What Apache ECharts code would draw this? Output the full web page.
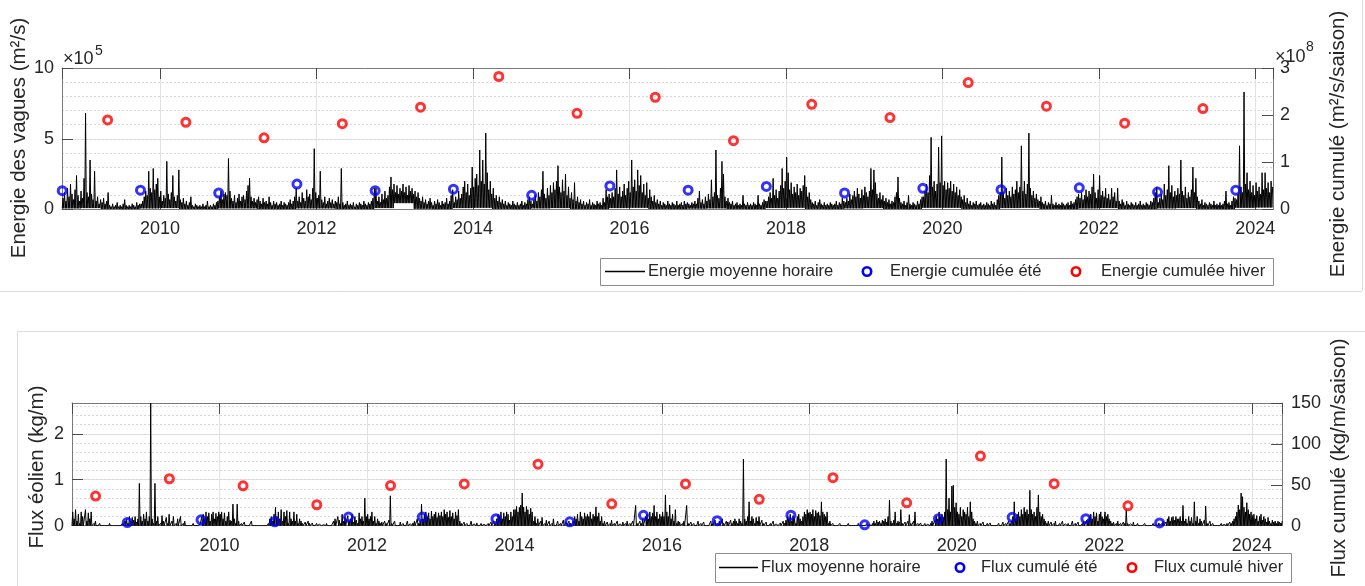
<!DOCTYPE html>
<html>
<head>
<meta charset="utf-8">
<script src="https://cdn.jsdelivr.net/npm/echarts@6/dist/echarts.min.js"></script>
<style>
  html, body { margin: 0; padding: 0; background: #ffffff; }
  #chart { width: 1365px; height: 586px; }
</style>
</head>
<body>
<div id="chart"></div>
<script>
// ---------------------------------------------------------------
// Wave energy: weekly peaks of the hourly mean (x10^5 m²/s),
// one row per season year starting at the end of September.
// ---------------------------------------------------------------
const waveStart = 2008.75;          // decimal year of the first sample
const samplesPerYear = 52;
const waveEnergyE5 = [
  0.8,1.2,0.6,1.5,0.9,1.8,1.1,0.7,1.4,2.4,1.0,0.6,1.3,0.8,2.2,6.8,1.2,0.9,3.5,1.1,0.7,2.7,0.6,0.9,0.4,0.7,0.5,0.8,0.4,0.6,1.2,0.3,0.2,0.4,0.2,0.3,0.5,0.2,0.3,0.2,0.4,0.7,0.3,0.2,0.3,0.2,0.4,0.3,0.2,0.5,0.3,0.4,
  0.4,0.6,0.9,1.3,1.0,2.7,1.5,1.2,2.9,1.4,1.8,2.2,0.9,1.3,0.6,1.0,0.8,3.4,1.1,0.7,1.2,2.4,0.9,0.6,1.0,2.8,0.7,0.5,0.8,0.4,0.6,0.3,0.5,0.9,0.3,0.2,0.4,0.3,0.2,0.3,0.2,0.4,0.2,0.3,0.6,0.2,0.3,0.2,0.4,0.3,0.5,0.6,
  0.9,1.3,0.7,1.1,1.2,1.0,3.6,1.3,0.8,0.6,1.0,0.5,0.8,1.1,0.6,0.9,1.0,0.7,1.3,1.7,2.2,0.9,0.6,0.8,0.5,0.7,0.9,0.6,0.4,0.8,0.5,0.6,0.4,0.9,0.5,0.3,0.6,0.4,0.5,0.3,0.4,0.6,0.3,0.5,0.4,0.3,0.5,0.7,0.4,0.6,0.9,1.5,
  0.6,0.9,0.5,1.2,0.8,0.6,1.4,0.9,1.1,0.7,1.5,4.3,1.2,0.8,1.0,2.7,0.7,0.5,0.9,0.4,0.6,0.8,0.5,0.7,0.4,0.6,0.5,0.9,0.4,2.9,0.5,0.3,0.4,0.6,0.3,0.4,0.3,0.5,0.2,0.4,0.3,0.5,0.4,0.3,0.6,0.4,0.3,0.5,0.4,0.6,0.8,1.5,
  1.5,0.6,0.9,0.5,1.1,0.7,1.3,0.8,1.0,1.6,2.3,1.4,1.8,1.2,1.7,1.1,1.5,1.3,1.8,1.2,1.6,1.0,1.7,1.3,1.5,1.1,1.3,0.9,1.2,0.8,0.6,0.9,0.5,0.7,0.4,0.6,0.8,0.5,0.3,0.6,0.4,0.7,0.5,0.3,0.6,0.4,0.5,0.8,0.4,0.6,1.0,1.4,
  0.5,0.9,0.7,1.3,0.8,1.1,1.6,2.0,1.2,1.8,1.0,1.5,3.0,1.6,2.2,2.5,1.7,4.2,2.0,3.5,1.8,5.4,2.6,1.4,2.0,1.1,1.5,0.8,1.0,0.6,0.9,0.5,0.7,0.4,0.6,0.3,0.5,0.4,0.3,0.6,0.4,0.3,0.5,0.3,0.4,0.6,0.3,0.5,0.4,0.7,0.9,0.6,
  0.4,0.7,1.0,0.6,1.2,0.9,1.4,2.7,1.1,0.8,1.5,1.0,1.7,1.2,1.9,1.4,2.0,3.1,1.6,1.2,2.1,1.3,2.5,1.0,1.6,0.8,1.2,0.7,1.9,0.6,0.9,0.5,0.7,0.4,0.6,0.3,0.5,0.4,0.7,0.3,0.5,0.4,0.3,0.6,0.4,0.5,0.3,0.8,0.5,1.4,0.9,1.1,
  0.8,1.2,0.9,1.5,2.8,1.1,1.6,0.9,1.3,1.8,1.0,1.5,2.0,1.2,3.5,1.6,2.1,1.3,2.8,1.7,2.4,1.2,1.8,1.0,1.9,0.8,1.4,0.9,0.6,1.0,0.5,0.7,0.4,0.6,0.3,0.5,0.4,0.3,0.6,0.4,0.3,0.5,0.4,0.3,0.6,0.3,0.4,0.5,0.3,0.6,0.4,0.5,
  0.4,0.3,0.5,0.4,0.6,0.4,0.8,1.3,0.5,0.7,0.4,0.9,0.6,1.1,0.7,2.1,0.9,1.2,4.2,1.0,0.8,1.5,3.4,2.5,0.9,0.6,0.8,0.5,0.4,0.6,0.3,0.4,0.5,0.3,0.4,0.3,1.0,0.4,0.3,0.5,0.3,0.4,0.3,0.5,0.4,0.3,1.0,0.4,0.3,0.5,0.7,0.6,
  0.6,0.9,1.2,0.8,2.2,1.0,1.4,0.8,1.3,1.7,2.9,1.5,2.0,3.7,2.6,1.4,1.9,1.1,1.6,1.2,1.8,1.0,1.5,1.3,1.7,2.4,1.6,0.9,1.2,0.7,0.5,0.4,0.6,0.3,0.5,0.7,0.4,0.3,0.5,0.3,0.4,0.3,0.5,0.4,0.3,0.4,0.6,0.3,0.5,0.4,0.8,0.6,
  0.5,0.8,0.6,1.1,0.7,1.0,1.3,0.9,1.5,1.1,0.8,1.4,1.0,1.6,1.2,0.9,1.3,2.9,1.4,2.8,1.9,1.1,0.8,1.2,0.7,1.0,0.6,0.8,0.5,0.7,0.4,0.6,0.5,0.9,1.2,2.3,0.8,0.5,0.4,0.6,0.3,0.5,1.0,0.4,0.3,0.5,0.4,0.3,0.6,0.4,0.7,0.9,
  0.9,1.3,1.8,1.2,2.4,5.1,1.6,2.0,1.3,1.8,4.4,1.9,5.2,1.7,2.0,1.4,1.9,1.5,2.0,1.3,1.8,1.2,1.6,1.0,1.4,0.9,0.7,1.0,0.5,0.8,0.4,0.6,0.3,0.5,0.4,0.6,0.3,0.4,0.5,0.3,0.4,0.3,0.5,0.4,0.3,0.6,0.4,0.5,0.3,0.7,1.0,1.2,
  3.7,1.2,0.8,1.5,1.0,1.3,0.9,1.6,1.1,1.4,2.0,1.2,1.6,4.5,1.3,2.0,1.1,1.8,5.4,1.5,1.0,1.3,0.8,1.1,0.7,0.6,0.9,0.5,0.4,0.6,0.3,0.5,0.4,1.0,0.4,0.3,0.5,0.3,0.4,0.3,0.5,0.4,0.3,0.4,0.5,0.3,0.6,0.4,0.5,0.7,0.9,1.1,
  0.8,1.2,0.7,1.0,1.4,0.9,1.3,1.1,1.6,2.5,1.2,0.8,1.4,2.4,1.0,1.3,0.9,1.5,0.8,1.1,0.7,1.5,0.9,1.2,0.6,1.5,0.6,0.4,0.7,0.5,0.3,0.6,0.4,0.3,0.5,0.4,0.3,0.5,0.3,0.4,0.6,0.3,0.4,0.3,0.5,0.4,0.3,0.6,0.5,0.8,1.2,1.6,
  0.5,0.8,1.1,0.7,1.8,1.0,1.4,3.1,1.2,1.7,0.9,1.3,1.0,1.5,1.1,3.5,1.3,1.0,1.6,0.8,1.2,0.9,1.4,3.0,1.2,2.2,0.9,0.6,0.4,0.7,0.3,0.5,0.4,0.3,0.5,0.4,0.3,0.6,0.3,0.4,0.3,0.5,0.3,0.4,0.6,1.3,0.4,0.5,0.3,0.6,0.9,0.8,
  0.7,1.1,4.5,1.6,1.2,8.3,1.8,2.6,1.4,2.0,1.2,1.7,1.0,1.9,1.3,1.6,1.1,2.6,1.4,2.6,1.5,1.9,1.2,2.0,1.6
];
// Calm level between storm peaks, one value per quarter (Oct-Dec, Jan-Mar, Apr-Jun, Jul-Sep)
const waveCalmE5 = [
  0.08,0.1,0.04,0.03,  0.08,0.1,0.04,0.03,  0.08,0.08,0.04,0.03,  0.08,0.08,0.04,0.03,
  0.1,0.45,0.05,0.03,  0.1,0.12,0.04,0.03,  0.08,0.1,0.04,0.03,   0.1,0.12,0.04,0.03,
  0.06,0.08,0.04,0.03, 0.1,0.12,0.04,0.03,  0.08,0.1,0.04,0.03,   0.12,0.12,0.04,0.03,
  0.1,0.12,0.04,0.03,  0.08,0.1,0.04,0.03,  0.08,0.1,0.04,0.03,   0.12,0.14
];

// Seasonal cumulated wave energy (x10^8 m²/s/saison)
const waveSummerDates = [2008.75,2009.75,2010.75,2011.75,2012.75,2013.75,2014.75,2015.75,2016.75,2017.75,2018.75,2019.75,2020.75,2021.75,2022.75,2023.75];
const waveSummerE8    = [0.40,0.41,0.35,0.54,0.40,0.43,0.30,0.50,0.41,0.49,0.35,0.45,0.42,0.46,0.37,0.41];
const waveWinterDates = [2009.33,2010.33,2011.33,2012.33,2013.33,2014.33,2015.33,2016.33,2017.33,2018.33,2019.33,2020.33,2021.33,2022.33,2023.33];
const waveWinterE8    = [1.90,1.85,1.52,1.82,2.17,2.82,2.04,2.38,1.46,2.23,1.95,2.69,2.19,1.83,2.14];

// ---------------------------------------------------------------
// Aeolian flux: weekly peaks of the hourly mean (kg/m),
// one row per calendar year; the flux drops back to zero between events.
// ---------------------------------------------------------------
const windStart = 2008.0;
const windCalm = 0;
const windFlux = [
  0.3,0.15,0.35,0.1,0.25,0.05,0.3,0.2,0,0.35,0.1,0.28,0.15,0.3,0,0.05,0.1,0,0,0.05,0,0,0.03,0,0,0,0.05,0,0,0.02,0,0,0.04,0,0,0.05,0,0.1,0.15,0.05,0.2,0.1,0.18,0.12,0.2,0.08,0.15,0.92,0.2,0.1,0.25,0.15,
  0.3,0.1,0.2,2.67,0.15,0.05,0.92,0.1,0.2,0,0.05,0.22,0.1,0,0.18,0.05,0.25,0,0.1,0.2,0,0.05,0.15,0,0.2,0,0.05,0.1,0,0,0.03,0,0,0.05,0,0,0.02,0,0.04,0.2,0.25,0.15,0.3,0.2,0.28,0.1,0.25,0.3,0.15,0.27,0.2,0.3,
  0.25,0.3,0.15,0.28,0.1,0.2,0.3,0.12,0.1,0.47,0.15,0.05,0.47,0.1,0,0.05,0,0.08,0,0,0,0.02,0.1,0,0,0.03,0,0,0,0.02,0,0,0.04,0,0.05,0.15,0.2,0.1,0.25,0.4,0.2,0.3,0.15,0.35,0.1,0.3,0.2,0.33,0.05,0.3,0.15,0.1,
  0.3,0.1,0.25,0.05,0.15,0.1,0.05,0,0.08,0,0.1,0.05,0,0.06,0,0,0.05,0,0.03,0,0,0.02,0,0.05,0,0,0.04,0,0.1,0.15,0,0.2,0.12,0.05,0.25,0.1,0.18,0,0.22,0.1,0.15,0.25,0.08,0.2,0.12,0.05,0.28,0.15,0.2,0.1,0.6,0.2,
  0.25,0.15,0.2,0.3,0.1,0.2,0.05,0.15,0.1,0.05,0.08,0,0.1,0.05,0,0.12,0.65,0.05,0,0.1,0.03,0,0,0.08,0,0.05,0,0,0.1,0,0.04,0,0.06,0.1,0,0.15,0.05,0.1,0.47,0.15,0.25,0.3,0.2,0.28,0.15,0.32,0.2,0.25,0.3,0.18,0.28,0.22,
  0.3,0.2,0.35,0.25,0.3,0.18,0.33,0.2,0.28,0.15,0.3,0.22,0.35,0.1,0.05,0,0.08,0,0.05,0,0,0.1,0,0.04,0,0.06,0,0,0.05,0,0.03,0,0,0.05,0,0.08,0,0.1,0.05,0.15,0.25,0.2,0.3,0.15,0.28,0.2,0.3,0.25,0.12,0.3,0.2,0.35,
  0.35,0.42,0.3,0.4,0.45,0.71,0.4,0.3,0.42,0.35,0.25,0.38,0.3,0.1,0.2,0.05,0.15,0,0.1,0.18,0,0.05,0.12,0,0.1,0,0.05,0.15,0,0,0.1,0,0.05,0,0.12,0,0.08,0,0.1,0.05,0,0.1,0.2,0.15,0.25,0.1,0.3,0.2,0.15,0.28,0.2,0.25,
  0.2,0.3,0.15,0.25,0.2,0.41,0.2,0.28,0.1,0.2,0.05,0.1,0,0.08,0,0.05,0.12,0,0.05,0,0.1,0,0.04,0,0.08,0,0.05,0.1,0,0.05,0,0.1,0,0.44,0.05,0,0.1,0.05,0.15,0,0.2,0.25,0.15,0.3,0.2,0.28,0.44,0.2,0.3,0.15,0.25,0.2,
  0.3,0.2,0.67,0.3,0.2,0.45,0.15,0.25,0.1,0.35,0.05,0.1,0.08,0,0.05,0.1,0,0.44,0.05,0,0.08,0,0.05,0,0,0.1,0,0.05,0,0.08,0,0,0.04,0,0.1,0.05,0,0.12,0,0.05,0.1,0,0.15,0.05,0,0.1,0.08,0,0.12,0.05,0.1,0.15,
  0.1,0.05,0.15,0.1,0.05,1.45,0.15,0.1,0.2,0.52,0.1,0.2,0.15,0.05,0.18,0.1,0.2,0,0.12,0.05,0,0.08,0,0,0.05,0,0.1,0,0.04,0,0,0.06,0,0.1,0.05,0.12,0.2,0.15,0.25,0.1,0.22,0.18,0.05,0.2,0.25,0.15,0.1,0.2,0.3,0.25,0.35,0.28,
  0.3,0.25,0.35,0.2,0.33,0.28,0.3,0.22,0.52,0.3,0.25,0.2,0.3,0.05,0.1,0,0.05,0,0,0.04,0,0.05,0,0,0.03,0,0,0.05,0,0,0,0.04,0,0,0.05,0,0,0.03,0,0,0.05,0,0.02,0,0.05,0.1,0.05,0.12,0.08,0.1,0.05,0.12,
  0.1,0.15,0.08,0.2,0.56,0.1,0.05,0.12,0.3,0.05,0.1,0.08,0.35,0.05,0,0.08,0,0.1,0.24,0.05,0,0.1,0.3,0,0.05,0,0.06,0,0,0.05,0,0.03,0,0.05,0.1,0,0.12,0.2,0.15,0.3,0.2,0.25,0.18,0.3,1.45,0.35,0.6,0.3,0.86,0.88,0.4,0.5,
  0.3,0.25,0.4,0.2,0.35,0.3,0.25,0.4,0.2,0.52,0.3,0.15,0.1,0.05,0.1,0,0.05,0,0.08,0,0,0.05,0,0.06,0,0,0.04,0,0,0.05,0,0,0.08,0,0.05,0,0.1,0.05,0.1,0.2,0.52,0.15,0.25,0.3,0.2,0.35,0.25,0.4,0.3,0.35,0.25,0.77,
  0.35,0.25,0.3,0.2,0.4,0.67,0.3,0.2,0.25,0.15,0.1,0.05,0.1,0,0.08,0,0.05,0.1,0,0,0.05,0,0.1,0,0.04,0,0.05,0,0,0.1,0,0.05,0,0.08,0,0,0.05,0.1,0,0.12,0.15,0.2,0.25,0.15,0.3,0.2,0.28,0.1,0.25,0.3,0.2,0.15,
  0.3,0.2,0.25,0.15,0.1,0.05,0.08,0,0.05,0.1,0,0.05,0,0.08,0.05,0.35,0.05,0,0.04,0,0.08,0,0,0.05,0,0,0.03,0,0.05,0,0,0.04,0,0,0.05,0,0.02,0,0.06,0,0.05,0.1,0,0.08,0.15,0.2,0.1,0.18,0.2,0.12,0.2,0.15,
  0.15,0.2,0.1,0.44,0.1,0.15,0.05,0.2,0.1,0.18,0.05,0.52,0.1,0.2,0.05,0.15,0.1,0,0.12,0.43,0.05,0,0.1,0,0.05,0,0,0.04,0,0,0.05,0,0.03,0,0.05,0,0.08,0.05,0.1,0.15,0.2,0.3,0.45,0.35,0.71,0.63,0.4,0.3,0.5,0.35,0.25,0.3,
  0.2,0.25,0.15,0.22,0.1,0.2,0.25,0.12,0.2,0.15,0.08,0.18,0.1,0.05,0.12,0.08,0.1,0.05,0.1,0.08,0.06,0.1
];

// Seasonal cumulated aeolian flux (kg/m/saison)
const windSummerDates = [2008.75,2009.75,2010.75,2011.75,2012.75,2013.75,2014.75,2015.75,2016.75,2017.75,2018.75,2019.75,2020.75,2021.75,2022.75];
const windSummer      = [3.9,7.2,4.7,10.5,10.6,8.5,4.7,12.7,6.1,12.9,1.1,8.6,10.3,8.5,3.4];
const windWinterDates = [2008.32,2009.32,2010.32,2011.32,2012.32,2013.32,2014.32,2015.32,2016.32,2017.32,2018.32,2019.32,2020.32,2021.32,2022.32];
const windWinter      = [36.2,57.4,48.7,25.6,49.0,51.1,75.2,26.7,51.1,32.3,58.7,28.0,85.1,51.4,24.3];

// Legend texts
const topNames = ['Energie moyenne horaire', 'Energie cumulée été', 'Energie cumulée hiver'];
const botNames = ['Flux moyenne horaire', 'Flux cumulé été', 'Flux cumulé hiver'];

// ---------------------------------------------------------------
const FONT = '"Liberation Sans", Arial, Helvetica, sans-serif';
const INK = '#262626';
const AXIS = '#7a7a7a';
const TICK = '#4a4a4a';
const GRID = '#e2e2e2';
const MINOR = '#d9d9d9';
const BLUE = '#0000ff';
const RED = '#ff0000';

// weekly samples: a calm point at the start of the week, then the week's peak
function weeklyTrace(start, peaks, calmAt) {
  const pts = [];
  peaks.forEach((v, i) => {
    const t = start + i / samplesPerYear;
    pts.push([t, calmAt(i)], [t + 0.5 / samplesPerYear, v]);
  });
  return pts;
}
const toPoints = (dates, values) => dates.map((d, i) => [d, values[i]]);

function timeAxes(gridIndex, min, max) {
  return [
    {
      type: 'value', gridIndex, min, max, splitNumber: 8, position: 'bottom',
      axisLine: { show: true, onZero: false, lineStyle: { color: AXIS, width: 1 } },
      axisTick: { show: true, inside: true, length: 11, lineStyle: { color: TICK } },
      axisLabel: { show: true, margin: 11, color: INK, fontFamily: FONT, fontSize: 18,
                   showMinLabel: false, showMaxLabel: false,
                   formatter: v => String(Math.round(v)) },
      splitLine: { show: true, lineStyle: { color: GRID, width: 1 } }
    },
    {
      type: 'value', gridIndex, min, max, splitNumber: 8, position: 'top',
      axisLine: { show: true, onZero: false, lineStyle: { color: AXIS, width: 1 } },
      axisTick: { show: true, inside: true, length: 11, lineStyle: { color: TICK } },
      axisLabel: { show: false },
      splitLine: { show: false }
    }
  ];
}

function valueAxes(gridIndex, left, right, minorStep) {
  return [
    {
      type: 'value', gridIndex, position: 'left', min: 0, max: left.max, interval: left.step,
      axisLine: { show: true, onZero: false, lineStyle: { color: AXIS, width: 1 } },
      axisTick: { show: true, inside: true, length: 11, lineStyle: { color: TICK } },
      axisLabel: { margin: 8, color: INK, fontFamily: FONT, fontSize: 18, showMaxLabel: left.showMax },
      splitLine: { show: true, lineStyle: { color: GRID, width: 1 } }
    },
    {
      type: 'value', gridIndex, position: 'right', min: 0, max: right.max, interval: right.step,
      axisLine: { show: true, onZero: false, lineStyle: { color: AXIS, width: 1 } },
      axisTick: { show: true, inside: true, length: 11, lineStyle: { color: TICK } },
      axisLabel: { margin: right.margin, color: INK, fontFamily: FONT, fontSize: 18 },
      splitLine: { show: false }
    },
    {
      // minor grid of the left scale
      type: 'value', gridIndex, position: 'left', min: 0, max: left.max, interval: minorStep,
      axisLine: { show: false }, axisTick: { show: false }, axisLabel: { show: false },
      splitLine: { show: true, lineStyle: { color: MINOR, width: 1, type: [2, 2] } }
    }
  ];
}

const circle = color => ({
  type: 'scatter', symbol: 'circle', symbolSize: 8,
  itemStyle: { color: 'rgba(0,0,0,0)', borderColor: color, borderWidth: 3 },
  z: 4
});

// boxed legend: line sample, summer circle, winter circle
function legendBox(names, b) {
  const cy = b.top + b.height / 2;
  const txt = (x, s) => ({
    type: 'text', silent: true, x, y: cy,
    style: { text: s, font: '16.5px ' + FONT, fill: INK, align: 'left', verticalAlign: 'middle',
             textAlign: 'left', textVerticalAlign: 'middle' }
  });
  return [
    { type: 'rect', silent: true, z: 10,
      shape: { x: b.left + 0.5, y: b.top + 0.5, width: b.width, height: b.height },
      style: { fill: '#ffffff', stroke: '#8c8c8c', lineWidth: 1 } },
    { type: 'line', silent: true, z: 11,
      shape: { x1: b.lineX[0], y1: cy, x2: b.lineX[1], y2: cy },
      style: { stroke: '#000000', lineWidth: 1.5 } },
    Object.assign(txt(b.textX[0], names[0]), { z: 11 }),
    { type: 'circle', silent: true, z: 11, shape: { cx: b.dotX[0], cy, r: 4.2 },
      style: { fill: 'none', stroke: BLUE, lineWidth: 2.6 } },
    Object.assign(txt(b.textX[1], names[1]), { z: 11 }),
    { type: 'circle', silent: true, z: 11, shape: { cx: b.dotX[1], cy, r: 4.2 },
      style: { fill: 'none', stroke: RED, lineWidth: 2.6 } },
    Object.assign(txt(b.textX[2], names[2]), { z: 11 })
  ];
}

const rotatedTitle = (x, y, s) => ({
  type: 'text', silent: true, x, y, rotation: Math.PI / 2,
  style: { text: s, font: '20.5px ' + FONT, fill: INK, align: 'center', verticalAlign: 'middle',
           textAlign: 'center', textVerticalAlign: 'middle' }
});
const plainText = (x, y, s, size) => ({
  type: 'text', silent: true, x, y,
  style: { text: s, font: size + 'px ' + FONT, fill: INK, align: 'left', verticalAlign: 'middle',
           textAlign: 'left', textVerticalAlign: 'middle' }
});
const frameLine = (x1, y1, x2, y2) => ({
  type: 'line', silent: true, shape: { x1, y1, x2, y2 }, style: { stroke: '#dddddd', lineWidth: 1 }
});

const option = {
  animation: false,
  backgroundColor: '#ffffff',
  grid: [
    { left: 62, top: 68, width: 1211, height: 141.5 },
    { left: 72, top: 403, width: 1210, height: 122.7 }
  ],
  xAxis: [
    ...timeAxes(0, 2008.747, 2024.226),
    ...timeAxes(1, 2008.0, 2024.41)
  ],
  yAxis: [
    ...valueAxes(0, { max: 10, step: 5, showMax: true }, { max: 3, step: 1, margin: 7 }, 1),
    ...valueAxes(1, { max: 2.67, step: 1, showMax: false }, { max: 150, step: 50, margin: 9 }, 0.2)
  ],
  series: [
    {
      type: 'line', name: topNames[0], xAxisIndex: 0, yAxisIndex: 0,
      data: weeklyTrace(waveStart, waveEnergyE5, i => waveCalmE5[Math.floor(i / 13)]),
      symbol: 'none', sampling: null,
      lineStyle: { color: '#000000', width: 1 }, itemStyle: { color: '#000000' }, z: 2
    },
    Object.assign(circle(BLUE), { name: topNames[1], xAxisIndex: 0, yAxisIndex: 1,
      data: toPoints(waveSummerDates, waveSummerE8) }),
    Object.assign(circle(RED), { name: topNames[2], xAxisIndex: 0, yAxisIndex: 1,
      data: toPoints(waveWinterDates, waveWinterE8) }),
    {
      type: 'line', name: botNames[0], xAxisIndex: 2, yAxisIndex: 3,
      data: weeklyTrace(windStart, windFlux, () => windCalm),
      symbol: 'none', sampling: null,
      lineStyle: { color: '#000000', width: 1 }, itemStyle: { color: '#000000' }, z: 2
    },
    Object.assign(circle(BLUE), { name: botNames[1], xAxisIndex: 2, yAxisIndex: 4,
      data: toPoints(windSummerDates, windSummer) }),
    Object.assign(circle(RED), { name: botNames[2], xAxisIndex: 2, yAxisIndex: 4,
      data: toPoints(windWinterDates, windWinter) })
  ],
  graphic: [
    // panel frames
    frameLine(0, 291.5, 1362, 291.5),
    frameLine(1362.5, 0, 1362.5, 291),
    frameLine(17, 331.5, 1365, 331.5),
    frameLine(17.5, 331, 17.5, 586),
    // axis titles
    rotatedTitle(19, 138, 'Energie des vagues (m²/s)'),
    rotatedTitle(1338, 144, 'Energie cumulé (m²/s/saison)'),
    rotatedTitle(37, 467, 'Flux éolien (kg/m)'),
    rotatedTitle(1339, 458, 'Flux cumulé (kg/m/saison)'),
    // scale factors
    plainText(63, 59, '×10', 18),
    plainText(95, 51, '5', 14),
    plainText(1275, 57, '×10', 18),
    plainText(1306, 47, '8', 14),
    // legends
    ...legendBox(topNames, { left: 600, top: 258, width: 673, height: 27,
      lineX: [605, 645], textX: [648, 890, 1101], dotX: [867, 1076] }),
    ...legendBox(botNames, { left: 715, top: 553, width: 576, height: 29,
      lineX: [719, 758], textX: [761, 981, 1154], dotX: [960, 1132] })
  ]
};

const chart = echarts.init(document.getElementById('chart'), null, { renderer: 'canvas' });
chart.setOption(option);
</script>
</body>
</html>
